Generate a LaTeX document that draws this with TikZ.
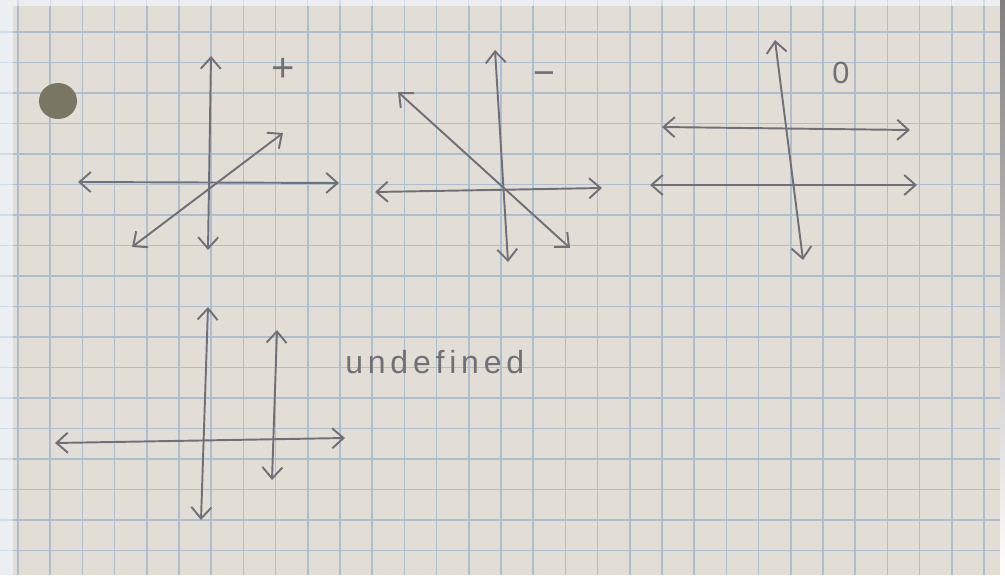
\documentclass[tikz,border=0pt]{standalone}
\usepackage{fontspec}
\newfontfamily\handfont[LetterSpace=15]{Liberation Sans}
\newfontfamily\signfont{Liberation Sans}
\usetikzlibrary{arrows.meta}
\definecolor{paper}{RGB}{226,221,213}
\definecolor{outside}{RGB}{236,239,241}
\definecolor{gridblue}{RGB}{172,191,208}
\definecolor{pencil}{RGB}{112,113,120}
\definecolor{holecol}{RGB}{122,118,100}
\definecolor{shade}{RGB}{95,96,100}
\tikzset{
  pen/.style={draw=pencil, line width=1.45pt, line cap=round, line join=round},
  dbl/.style={pen, {Straight Barb[length=8.5pt,width=15pt]}-{Straight Barb[length=8.5pt,width=15pt]}},
  gridline/.style={draw=gridblue, line width=1.1pt},
  faintgrid/.style={draw=gridblue!40!outside, line width=0.8pt},
  sign/.style={text=pencil, inner sep=0pt},
  handtext/.style={text=pencil, font=\handfont\fontsize{24}{24}\selectfont, inner sep=0pt, anchor=base west}
}
\begin{document}
\begin{tikzpicture}[x=0.75pt, y=-0.75pt]
\useasboundingbox (0,0) rectangle (1005,575);
% outside background
\fill[outside] (0,0) rectangle (1005,575);
\foreach \x in {18,50.2,...,1000} {\draw[faintgrid] (\x,0) -- (\x,6);}
\foreach \y in {32,62.5,...,575} {\draw[faintgrid] (0,\y) -- (13,\y);}
% paper
\fill[paper] (13,6) rectangle (1000,575);
\begin{scope}
  \clip (13,6) rectangle (1000,575);
  \foreach \x in {18,50.2,...,1000} {\draw[gridline] (\x,6) -- (\x,575);}
  \foreach \y in {32,62.5,...,575} {\draw[gridline] (13,\y) -- (1000,\y);}
\end{scope}
\fill[shade] (1000,0) rectangle (1005,575);
% punch hole
\fill[holecol] (58,101) ellipse (19 and 18);

% ---- sketch 1: positive slope
\coordinate (a1t) at (211,56);
\coordinate (a1b) at (208,250);
\coordinate (a1l) at (78,182);
\coordinate (a1r) at (339,183);
\coordinate (l1a) at (132,247);
\coordinate (l1b) at (283,133);
\draw[dbl] (a1b) -- (a1t);
\draw[dbl] (a1l) -- (a1r);
\draw[dbl] (l1a) -- (l1b);
\node[sign, font=\signfont\fontsize{30}{30}\selectfont] (plus) at (283,70) {+};

% ---- sketch 2: negative slope
\coordinate (a2t) at (495,50);
\coordinate (a2b) at (508,262);
\coordinate (a2l) at (375,192);
\coordinate (a2r) at (602,188);
\coordinate (l2a) at (398,92);
\coordinate (l2b) at (570,248);
\draw[dbl] (a2b) -- (a2t);
\draw[dbl] (a2l) -- (a2r);
\draw[dbl] (l2a) -- (l2b);
\node[sign, font=\signfont\fontsize{28}{28}\selectfont] (minus) at (544,79) {−};

% ---- sketch 3: zero slope
\coordinate (a3t) at (775,40);
\coordinate (a3b) at (803,260);
\coordinate (h3a) at (662,127);
\coordinate (h3b) at (910,130);
\coordinate (h3c) at (650,185);
\coordinate (h3d) at (917,185);
\draw[dbl] (a3b) -- (a3t);
\draw[dbl] (h3a) -- (h3b);
\draw[dbl] (h3c) -- (h3d);
\node[sign, font=\signfont\fontsize{23}{23}\selectfont] (zero) at (841,73) {0};

% ---- sketch 4: undefined slope
\coordinate (a4t) at (208,307);
\coordinate (a4b) at (201,520);
\coordinate (a4l) at (55,443);
\coordinate (a4r) at (345,438);
\coordinate (v4t) at (277,330);
\coordinate (v4b) at (272,480);
\draw[dbl] (a4b) -- (a4t);
\draw[dbl] (a4l) -- (a4r);
\draw[dbl] (v4b) -- (v4t);
\node[handtext] (undef) at (345,373) {undefined};
\end{tikzpicture}
\end{document}
